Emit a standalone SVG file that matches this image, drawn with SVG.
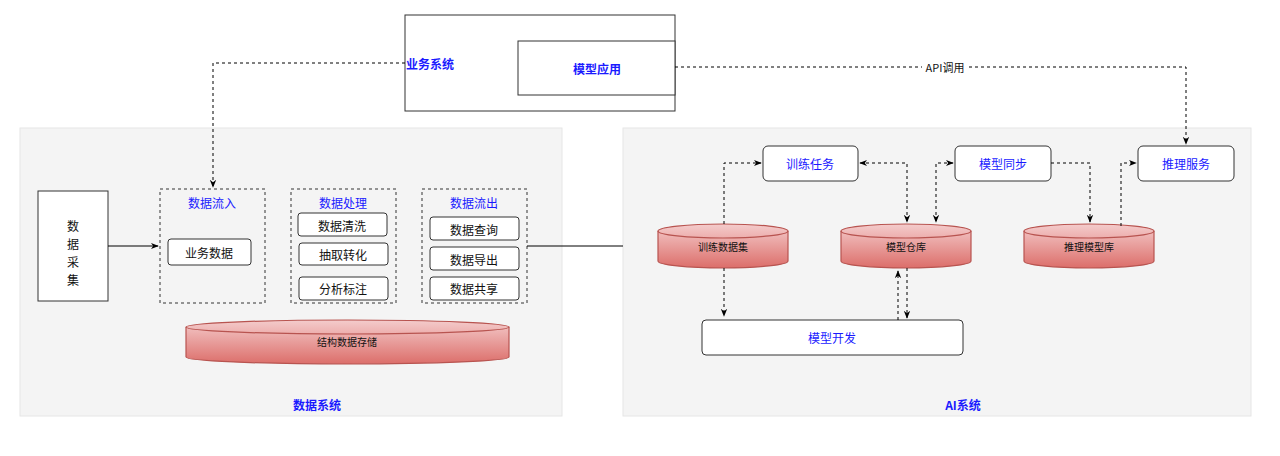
<svg xmlns="http://www.w3.org/2000/svg" width="1280" height="456" viewBox="0 0 1280 456">
<defs>
<linearGradient id="cg" x1="0" y1="0" x2="0" y2="1"><stop offset="0" stop-color="#f4cccc"/><stop offset="1" stop-color="#dc6e6a"/></linearGradient>
<marker id="ar" viewBox="0 0 10 10" refX="9" refY="5" markerWidth="8" markerHeight="8" orient="auto-start-reverse"><path d="M0,1 L10,5 L0,9 L3,5 z" fill="#000"/></marker>
<style>
text{font-family:"Noto Sans CJK SC","Liberation Sans",sans-serif;text-anchor:middle;dominant-baseline:central}
.b{fill:#fff;stroke:#333;stroke-width:1}
.r{fill:#fff;stroke:#333;stroke-width:1}
.d{fill:none;stroke:#333;stroke-dasharray:3,3}
.bg{fill:#f4f4f4;stroke:#e6e6e6}
.bl{fill:#1a1aff;font-size:12px}
.bb{fill:#1a1aff;font-size:12px;font-weight:bold}
.k{fill:#111;font-size:12px}
.s{fill:#111;font-size:10px}
.cy{fill:url(#cg);stroke:#b85450;stroke-width:1.2}
.cn{fill:none;stroke:#000;stroke-width:1}
.cd{fill:none;stroke:#000;stroke-width:1;stroke-dasharray:3,3}
</style>
</defs>
<rect class="bg" x="20" y="128" width="542" height="288"/>
<rect class="bg" x="623" y="128" width="628" height="288"/>
<g id="biz"><rect x="405" y="15" width="270" height="96" fill="#fff" stroke="#333"/><text class="bb" x="430" y="63">业务系统</text></g>
<g id="app"><rect x="518" y="41" width="157" height="54" fill="#fff" stroke="#333"/><text class="bb" x="597" y="68">模型应用</text></g>
<text class="bb" x="317" y="404">数据系统</text>
<text class="bb" x="963" y="404">AI系统</text>
<g id="collect"><rect x="38" y="191" width="70" height="110" fill="#fff" stroke="#333"/><text class="k" x="73" y="225">数</text><text class="k" x="73" y="243">据</text><text class="k" x="73" y="261">采</text><text class="k" x="73" y="279">集</text></g>
<g id="in"><rect class="d" x="160" y="189" width="105" height="114" fill="none"/><text class="bl" x="212" y="202">数据流入</text>
<rect class="r" x="168" y="239" width="83" height="26" rx="3"/><text class="k" x="209" y="252">业务数据</text></g>
<g id="proc"><rect class="d" x="291" y="189" width="105" height="114"/><text class="bl" x="343" y="202">数据处理</text>
<rect class="r" x="298" y="213" width="89" height="23" rx="3"/><text class="k" x="342" y="225">数据清洗</text>
<rect class="r" x="299" y="243" width="89" height="22" rx="3"/><text class="k" x="343" y="254">抽取转化</text>
<rect class="r" x="299" y="277" width="89" height="23" rx="3"/><text class="k" x="343" y="288">分析标注</text></g>
<g id="out"><rect class="d" x="422" y="189" width="105" height="114"/><text class="bl" x="474" y="202">数据流出</text>
<rect class="r" x="430" y="217" width="89" height="23" rx="3"/><text class="k" x="474" y="229">数据查询</text>
<rect class="r" x="430" y="247" width="89" height="23" rx="3"/><text class="k" x="474" y="259">数据导出</text>
<rect class="r" x="430" y="277" width="89" height="23" rx="3"/><text class="k" x="474" y="288">数据共享</text></g>
<g id="store"><path class="cy" d="M186,327 A161.5,7 0 0 1 509,327 V357 A161.5,7 0 0 1 186,357 Z"/><path class="cy" fill="none" d="M186,327 A161.5,7 0 0 0 509,327" style="fill:none"/><text class="s" x="347" y="341">结构数据存储</text></g>
<g id="task"><rect class="r" x="763" y="146" width="95" height="35" rx="5"/><text class="bl" x="810" y="163">训练任务</text></g>
<g id="sync"><rect class="r" x="955" y="146" width="96" height="35" rx="5"/><text class="bl" x="1003" y="163">模型同步</text></g>
<g id="infer"><rect class="r" x="1138" y="146" width="96" height="35" rx="5"/><text class="bl" x="1186" y="163">推理服务</text></g>
<g id="trainset"><path class="cy" d="M658,231 A65,7 0 0 1 788,231 V261 A65,7 0 0 1 658,261 Z"/><path class="cy" style="fill:none" d="M658,231 A65,7 0 0 0 788,231"/><text class="s" x="723" y="246">训练数据集</text></g>
<g id="repo"><path class="cy" d="M841,231 A65,7 0 0 1 971,231 V261 A65,7 0 0 1 841,261 Z"/><path class="cy" style="fill:none" d="M841,231 A65,7 0 0 0 971,231"/><text class="s" x="906" y="246">模型仓库</text></g>
<g id="inferlib"><path class="cy" d="M1024,231 A65,7 0 0 1 1154,231 V261 A65,7 0 0 1 1024,261 Z"/><path class="cy" style="fill:none" d="M1024,231 A65,7 0 0 0 1154,231"/><text class="s" x="1089" y="246">推理模型库</text></g>
<g id="dev"><rect class="r" x="702" y="320" width="261" height="35" rx="4"/><text class="bl" x="832" y="337">模型开发</text></g>
<g id="connectors">
<path class="cn" d="M108,246 H158" marker-end="url(#ar)"/>
<path class="cn" d="M527,246 H623"/>
<path class="cd" d="M405,63 H213 V187" marker-end="url(#ar)"/>
<path class="cd" d="M675,67 H1186 V144" marker-end="url(#ar)"/>
<rect x="922" y="60" width="46" height="14" fill="#fff"/>
<text x="945" y="67" style="font-size:11px;fill:#111">API调用</text>
<path class="cd" d="M724,224 V163 H761" marker-end="url(#ar)"/>
<path class="cd" d="M860,163 H907 V222" marker-start="url(#ar)" marker-end="url(#ar)"/>
<path class="cd" d="M953,163 H936 V222" marker-start="url(#ar)" marker-end="url(#ar)"/>
<path class="cd" d="M1051,163 H1090 V222" marker-end="url(#ar)"/>
<path class="cd" d="M1121,226 V163 H1136" marker-end="url(#ar)"/>
<path class="cd" d="M724,268 V316" marker-end="url(#ar)"/>
<path class="cd" d="M898,320 V271" marker-end="url(#ar)"/>
<path class="cd" d="M907,268 V318" marker-end="url(#ar)"/>
</g>
</svg>
